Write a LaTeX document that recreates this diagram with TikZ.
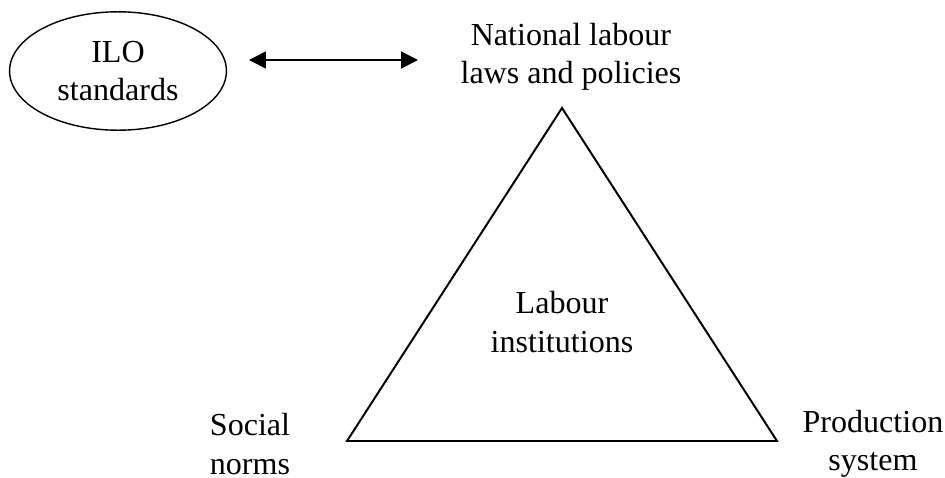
\documentclass[tikz,border=0pt]{standalone}
\usepackage{fontspec}
\setmainfont{Liberation Serif}
\usepackage{tikz}
\usetikzlibrary{arrows.meta,shapes.geometric}

\begin{document}
\begin{tikzpicture}[
        x=0.0125cm, y=-0.0125cm,
        every node/.style={font=\fontsize{11.4}{13.7}\selectfont, align=center},
        label/.style={inner sep=0pt},
        oval/.style={ellipse, draw, line width=0.5pt, inner sep=0pt, minimum width=2.71cm, minimum height=1.48cm},
        link/.style={{Triangle[length=6pt,width=6pt]}-{Triangle[length=6pt,width=6pt]}, line width=0.6pt}
    ]
    \useasboundingbox (0,0) rectangle (945,477);

    % Top row (standards and national laws)
    \node[oval] (ilo) at (118,71) {ILO\\standards};
    \node[label] (laws) at (571,57) {National labour\\laws and policies};

    % Arrow between them
    \coordinate (arrL) at (249,60);
    \coordinate (arrR) at (418,60);
    \draw[link] (arrL) -- (arrR);

    % Triangle corners
    \coordinate (top) at (562,108);
    \coordinate (left) at (347,441);
    \coordinate (right) at (777,441);
    \draw[line width=0.7pt] (top) -- (left) -- (right) -- cycle;

    % Labels inside and at the corners
    \node[label] (inst) at (562,322) {Labour\\institutions};
    \node[label] (social) at (250,444) {Social\\norms};
    \node[label] (prod) at (873,444) {Production\\system};

\end{tikzpicture}
\end{document}
